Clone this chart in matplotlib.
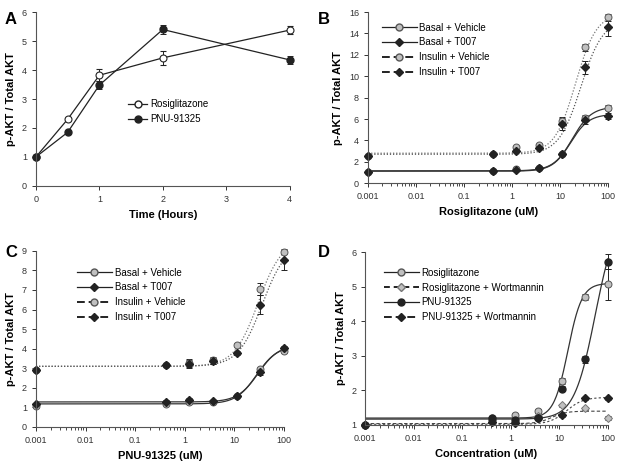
import matplotlib
matplotlib.use("Agg")
import matplotlib.pyplot as plt
import numpy as np
from matplotlib.lines import Line2D

plt.rcParams["font.family"] = ["Liberation Sans", "DejaVu Sans"]

# -------------------------
# Panel A data
# -------------------------
time_h = [0, 0.5, 1, 2, 4]
rosi_time = [1.0, 2.3, 3.82, 4.42, 5.38]
rosi_time_err = [0, 0.05, 0.2, 0.25, 0.15]
pnu_time = [1.0, 1.85, 3.48, 5.4, 4.35]
pnu_time_err = [0, 0.05, 0.15, 0.15, 0.15]

# -------------------------
# Dose data (uM)
# -------------------------
conc = [0.001, 0.41, 1.23, 3.7, 11.1, 33.3, 100]

# Panel B (Rosiglitazone)
b_basal_veh = [1.0, 1.1, 1.3, 1.45, 2.7, 6.1, 7.05]
b_basal_t007 = [1.0, 1.1, 1.2, 1.4, 2.7, 5.9, 6.3]
b_ins_veh = [2.5, 2.75, 3.35, 3.55, 5.8, 12.7, 15.5]
b_ins_t007 = [2.55, 2.75, 3.0, 3.3, 5.55, 10.85, 14.65]
b_basal_veh_err = [0, 0.05, 0.1, 0.1, 0.15, 0.3, 0.25]
b_basal_t007_err = [0, 0.05, 0.1, 0.1, 0.15, 0.35, 0.3]
b_ins_veh_err = [0, 0.1, 0.1, 0.1, 0.3, 0.35, 0.3]
b_ins_t007_err = [0, 0.1, 0.1, 0.1, 0.6, 0.6, 0.9]
# Hill fit parameters: bottom, top, ec50, slope
b_fit_basal_veh = [1.15, 7.15, 18.0, 2.2]
b_fit_basal_t007 = [1.12, 6.45, 16.5, 2.3]
b_fit_ins_veh = [2.8, 15.9, 21.0, 2.0]
b_fit_ins_t007 = [2.7, 15.3, 27.0, 1.9]

# Panel C (PNU-91325)
c_basal_veh = [1.05, 1.2, 1.28, 1.3, 1.6, 2.95, 3.9]
c_basal_t007 = [1.15, 1.3, 1.4, 1.35, 1.6, 2.8, 4.05]
c_ins_veh = [2.9, 3.15, 3.25, 3.4, 4.2, 7.05, 8.95]
c_ins_t007 = [2.9, 3.15, 3.2, 3.35, 3.8, 6.25, 8.55]
c_basal_veh_err = [0.1, 0.1, 0.1, 0.05, 0.05, 0.1, 0.1]
c_basal_t007_err = [0.1, 0.1, 0.1, 0.05, 0.05, 0.15, 0.1]
c_ins_veh_err = [0.1, 0.1, 0.2, 0.2, 0.1, 0.3, 0.1]
c_ins_t007_err = [0.1, 0.1, 0.2, 0.15, 0.1, 0.5, 0.55]
c_fit_basal_veh = [1.18, 4.15, 28.0, 2.1]
c_fit_basal_t007 = [1.28, 4.2, 30.0, 2.1]
c_fit_ins_veh = [3.1, 9.6, 30.0, 1.8]
c_fit_ins_t007 = [3.1, 9.4, 36.0, 1.8]

# Panel D
d_rosi = [1.0, 1.2, 1.3, 1.4, 2.27, 4.7, 5.07]
d_rosi_wort = [1.0, 1.15, 1.1, 1.25, 1.57, 1.48, 1.2]
d_pnu = [1.0, 1.2, 1.15, 1.2, 2.05, 2.9, 5.72]
d_pnu_wort = [1.0, 1.1, 1.05, 1.2, 1.28, 1.77, 1.77]
d_rosi_err = [0, 0.05, 0.05, 0.05, 0.08, 0.08, 0.45]
d_rosi_wort_err = [0, 0.03, 0.03, 0.03, 0.05, 0.05, 0.05]
d_pnu_err = [0, 0.05, 0.05, 0.05, 0.08, 0.1, 0.22]
d_pnu_wort_err = [0, 0.03, 0.03, 0.03, 0.05, 0.05, 0.05]
d_fit_rosi = [1.2, 5.1, 15.0, 3.0]
d_fit_rosi_wort = [1.04, 1.4, 7.0, 3.0]
d_fit_pnu = [1.17, 7.2, 55.0, 2.0]
d_fit_pnu_wort = [1.02, 1.8, 14.0, 2.5]

GRAY = "#c0c0c0"
DARK = "#222222"
LABEL_FS = 8
TICK_FS = 6.5
ERR_KW = dict(capsize=2, elinewidth=0.7, capthick=0.7, ecolor=DARK, clip_on=False)


def hill(x, p):
    bottom, top, ec50, h = p
    return bottom + (top - bottom) / (1 + (ec50 / x) ** h)


def style_axes(ax):
    for s in ["top", "right"]:
        ax.spines[s].set_visible(False)
    for s in ["left", "bottom"]:
        ax.spines[s].set_color("#555555")
        ax.spines[s].set_linewidth(0.8)
    ax.tick_params(labelsize=TICK_FS, colors="#333333", length=3, width=0.7)
    ax.tick_params(which="minor", length=2, width=0.5)


def dose_axes(ax, xlabel):
    ax.set_xscale("log")
    ax.set_xlim(0.001, 100)
    ax.set_xticks([0.001, 0.01, 0.1, 1, 10, 100])
    ax.set_xticklabels(["0.001", "0.01", "0.1", "1", "10", "100"])
    ax.set_xlabel(xlabel, fontsize=LABEL_FS, fontweight="bold")
    ax.set_ylabel("p-AKT / Total AKT", fontsize=LABEL_FS, fontweight="bold")
    style_axes(ax)


xfit = np.logspace(-3, 2, 400)

fig = plt.figure(figsize=(6.19, 4.66), dpi=100)

# -------------------------
# A
# -------------------------
axA = fig.add_axes([0.058, 0.601, 0.41, 0.373])
axA.errorbar(time_h, rosi_time, yerr=rosi_time_err, color=DARK, lw=0.9,
             marker="o", ms=5, mfc="white", mec=DARK, mew=0.8, **ERR_KW)
axA.errorbar(time_h, pnu_time, yerr=pnu_time_err, color=DARK, lw=0.9,
             marker="o", ms=5, mfc=DARK, mec=DARK, **ERR_KW)
axA.set_xlim(0, 4)
axA.set_ylim(0, 6)
axA.set_xticks([0, 1, 2, 3, 4])
axA.set_xlabel("Time (Hours)", fontsize=LABEL_FS, fontweight="bold")
axA.set_ylabel("p-AKT / Total AKT", fontsize=LABEL_FS, fontweight="bold")
style_axes(axA)
hA = [Line2D([], [], color=DARK, lw=0.9, marker="o", ms=5, mfc="white", mec=DARK),
      Line2D([], [], color=DARK, lw=0.9, marker="o", ms=5, mfc=DARK, mec=DARK)]
axA.legend(hA, ["Rosiglitazone", "PNU-91325"], frameon=False, fontsize=7,
           loc="upper left", bbox_to_anchor=(0.33, 0.55), handlelength=1.9,
           handletextpad=0.3, labelspacing=0.5)


def panel_bc(ax, data, errs, fits, xlabel):
    bv, bt, iv, it = data
    ebv, ebt, eiv, eit = errs
    fbv, fbt, fiv, fit_ = fits
    ax.plot(xfit, hill(xfit, fbv), color="#333333", lw=0.9)
    ax.plot(xfit, hill(xfit, fbt), color="#333333", lw=0.9)
    ax.plot(xfit, hill(xfit, fiv), color="#777777", lw=0.9, ls=(0, (1, 1.5)))
    ax.plot(xfit, hill(xfit, fit_), color="#555555", lw=0.9, ls=(0, (1, 1.5)))
    ax.errorbar(conc, bv, yerr=ebv, ls="none", marker="o", ms=5, mfc=GRAY, mec="#555555", mew=0.7, **ERR_KW)
    ax.errorbar(conc, bt, yerr=ebt, ls="none", marker="D", ms=4, mfc=DARK, mec=DARK, **ERR_KW)
    ax.errorbar(conc, iv, yerr=eiv, ls="none", marker="o", ms=5, mfc=GRAY, mec="#555555", mew=0.7, **ERR_KW)
    ax.errorbar(conc, it, yerr=eit, ls="none", marker="D", ms=4, mfc=DARK, mec=DARK, **ERR_KW)
    dose_axes(ax, xlabel)
    handles = [
        Line2D([], [], color=DARK, lw=0.9, marker="o", ms=5, mfc=GRAY, mec="#555555"),
        Line2D([], [], color=DARK, lw=0.9, marker="D", ms=4, mfc=DARK, mec=DARK),
        Line2D([], [], color=DARK, lw=1.4, ls=(0, (4, 2)), marker="o", ms=5, mfc=GRAY, mec="#555555"),
        Line2D([], [], color=DARK, lw=1.4, ls=(0, (4, 2)), marker="D", ms=4, mfc=DARK, mec=DARK),
    ]
    labels = ["Basal + Vehicle", "Basal + T007", "Insulin + Vehicle", "Insulin + T007"]
    return handles, labels


# -------------------------
# B
# -------------------------
axB = fig.add_axes([0.5945, 0.607, 0.388, 0.367])
hB, lB = panel_bc(axB, (b_basal_veh, b_basal_t007, b_ins_veh, b_ins_t007),
                  (b_basal_veh_err, b_basal_t007_err, b_ins_veh_err, b_ins_t007_err),
                  (b_fit_basal_veh, b_fit_basal_t007, b_fit_ins_veh, b_fit_ins_t007),
                  "Rosiglitazone (uM)")
axB.set_ylim(0, 16)
axB.set_yticks(range(0, 17, 2))
axB.legend(hB, lB, frameon=False, fontsize=7, loc="upper left",
           bbox_to_anchor=(0.02, 0.99), handlelength=3.6, handletextpad=0.3,
           labelspacing=0.5)

# -------------------------
# C
# -------------------------
axC = fig.add_axes([0.058, 0.0837, 0.401, 0.378])
hC, lC = panel_bc(axC, (c_basal_veh, c_basal_t007, c_ins_veh, c_ins_t007),
                  (c_basal_veh_err, c_basal_t007_err, c_ins_veh_err, c_ins_t007_err),
                  (c_fit_basal_veh, c_fit_basal_t007, c_fit_ins_veh, c_fit_ins_t007),
                  "PNU-91325 (uM)")
axC.set_ylim(0, 9)
axC.set_yticks(range(0, 10))
axC.legend(hC, lC, frameon=False, fontsize=7, loc="upper left",
           bbox_to_anchor=(0.13, 0.955), handlelength=3.6, handletextpad=0.3,
           labelspacing=0.5)

# -------------------------
# D
# -------------------------
axD = fig.add_axes([0.59, 0.088, 0.392, 0.371])
axD.plot(xfit, hill(xfit, d_fit_rosi), color="#333333", lw=0.9)
axD.plot(xfit, hill(xfit, d_fit_pnu), color="#333333", lw=0.9)
axD.plot(xfit, hill(xfit, d_fit_rosi_wort), color="#444444", lw=0.8, ls=(0, (3, 2)))
axD.plot(xfit, hill(xfit, d_fit_pnu_wort), color="#444444", lw=0.8, ls=(0, (2, 2)))
axD.errorbar(conc, d_rosi, yerr=d_rosi_err, ls="none", marker="o", ms=5, mfc=GRAY, mec="#555555", mew=0.7, **ERR_KW)
axD.errorbar(conc, d_rosi_wort, yerr=d_rosi_wort_err, ls="none", marker="D", ms=4, mfc=GRAY, mec="#777777", mew=0.7, **ERR_KW)
axD.errorbar(conc, d_pnu, yerr=d_pnu_err, ls="none", marker="o", ms=5, mfc=DARK, mec=DARK, **ERR_KW)
axD.errorbar(conc, d_pnu_wort, yerr=d_pnu_wort_err, ls="none", marker="D", ms=4, mfc=DARK, mec=DARK, **ERR_KW)
dose_axes(axD, "Concentration (uM)")
axD.set_ylim(1, 6)
axD.set_yticks(range(1, 7))
hD = [
    Line2D([], [], color=DARK, lw=0.9, marker="o", ms=5, mfc=GRAY, mec="#555555"),
    Line2D([], [], color=DARK, lw=1.4, ls=(0, (3, 2)), marker="D", ms=4, mfc=GRAY, mec="#777777"),
    Line2D([], [], color=DARK, lw=0.9, marker="o", ms=5, mfc=DARK, mec=DARK),
    Line2D([], [], color=DARK, lw=1.4, ls=(0, (4, 2)), marker="D", ms=4, mfc=DARK, mec=DARK),
]
axD.legend(hD, ["Rosiglitazone", "Rosiglitazone + Wortmannin", "PNU-91325",
                "PNU-91325 + Wortmannin"], frameon=False, fontsize=7,
           loc="upper left", bbox_to_anchor=(0.04, 0.96), handlelength=3.6,
           handletextpad=0.3, labelspacing=0.5)

# panel letters
for label, x, y in [("A", 0.008, 0.975), ("B", 0.513, 0.975),
                    ("C", 0.008, 0.475), ("D", 0.513, 0.475)]:
    fig.text(x, y, label, fontsize=12, fontweight="bold", va="top")

fig.savefig("out.png", dpi=100)
